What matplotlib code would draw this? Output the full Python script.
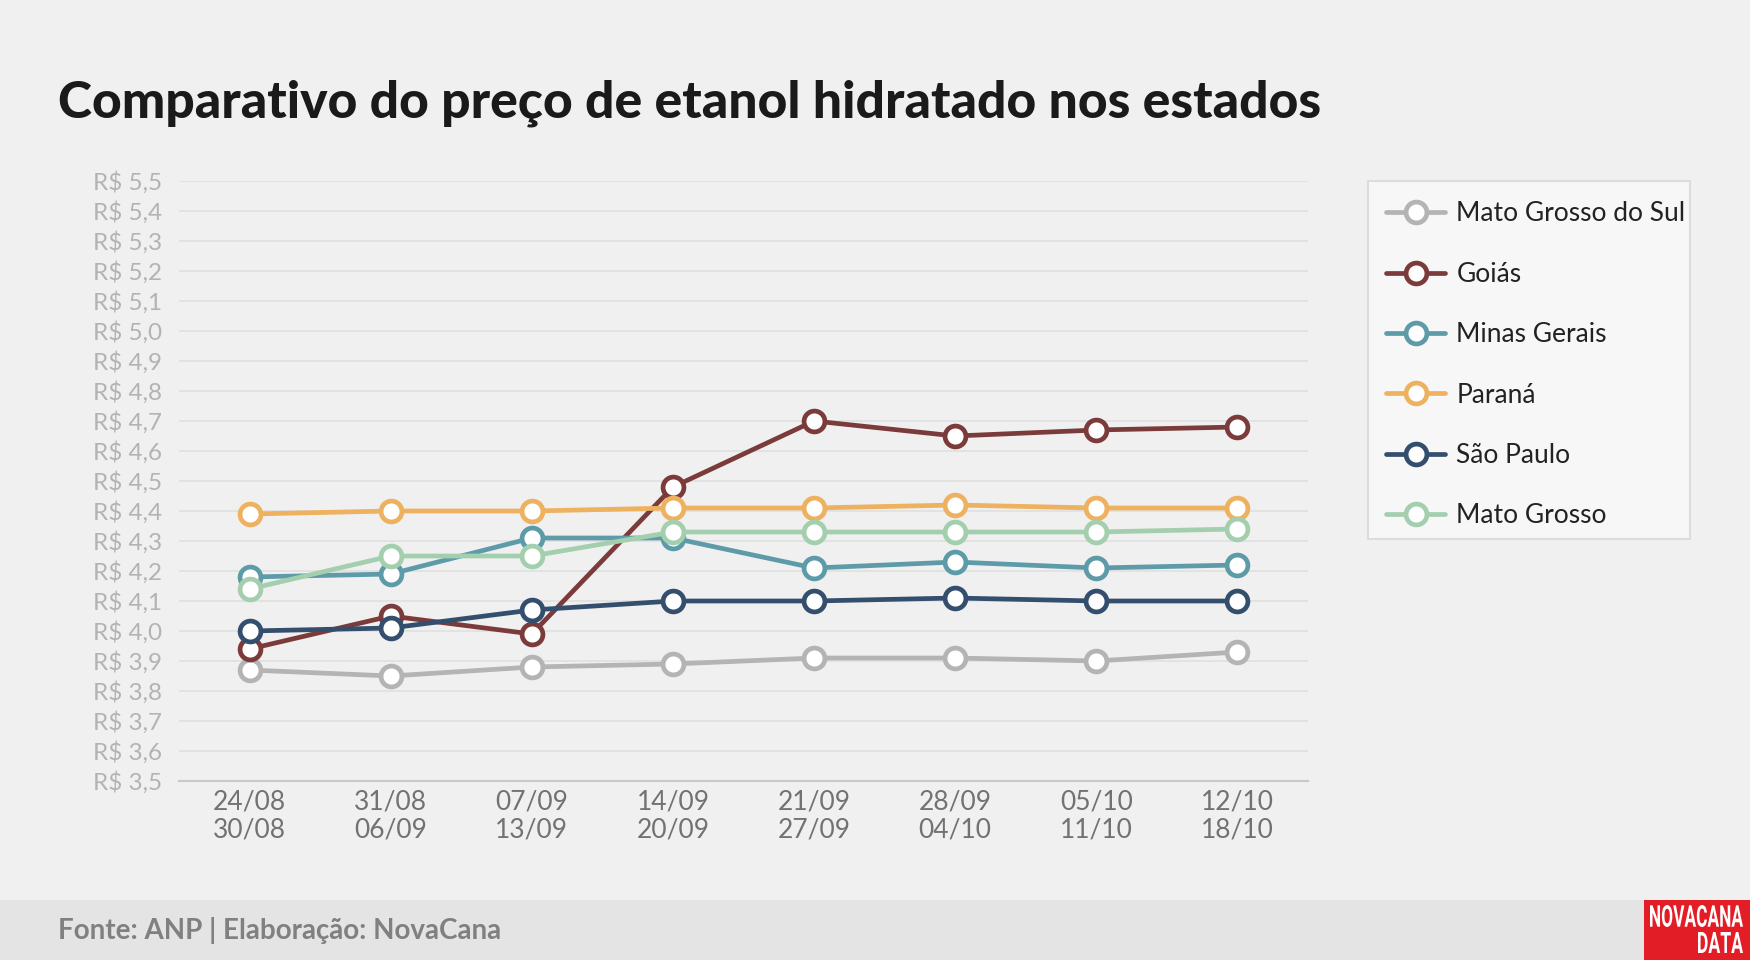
import matplotlib
matplotlib.use("Agg")
import matplotlib.pyplot as plt
from matplotlib.patches import Rectangle, PathPatch
from matplotlib.textpath import TextPath
from matplotlib.font_manager import FontProperties
from matplotlib.transforms import Affine2D

semanas = ["24/08\n30/08", "31/08\n06/09", "07/09\n13/09", "14/09\n20/09",
           "21/09\n27/09", "28/09\n04/10", "05/10\n11/10", "12/10\n18/10"]

mato_grosso_do_sul = [3.87, 3.85, 3.88, 3.89, 3.91, 3.91, 3.90, 3.93]
goias = [3.94, 4.05, 3.99, 4.48, 4.70, 4.65, 4.67, 4.68]
minas_gerais = [4.18, 4.19, 4.31, 4.31, 4.21, 4.23, 4.21, 4.22]
parana = [4.39, 4.40, 4.40, 4.41, 4.41, 4.42, 4.41, 4.41]
sao_paulo = [4.00, 4.01, 4.07, 4.10, 4.10, 4.11, 4.10, 4.10]
mato_grosso = [4.14, 4.25, 4.25, 4.33, 4.33, 4.33, 4.33, 4.34]

series = [
    ("Mato Grosso do Sul", mato_grosso_do_sul, "#b4b4b4"),
    ("Goiás", goias, "#7c3b3b"),
    ("Minas Gerais", minas_gerais, "#5e9ba8"),
    ("Paraná", parana, "#edb160"),
    ("São Paulo", sao_paulo, "#344e6d"),
    ("Mato Grosso", mato_grosso, "#a4cfae"),
]

yticks = [3.5 + i * 0.1 for i in range(21)]

plt.rcParams["font.family"] = ["Lato", "DejaVu Sans"]

W, H = 1750, 960
bg = "#f0f0f0"
fig = plt.figure(figsize=(W / 100, H / 100), dpi=100, facecolor=bg)
ax = fig.add_axes([179 / W, 1 - 781 / H, (1308 - 179) / W, (781 - 181) / H])
ax.set_facecolor(bg)

x = list(range(len(semanas)))
for nome, vals, cor in series:
    ax.plot(x, vals, color=cor, lw=3.4, marker="o", ms=15,
            mfc="white", mec=cor, mew=3.4, label=nome, solid_capstyle="round")

ax.set_xlim(-0.5, len(semanas) - 0.5)
ax.set_ylim(3.5, 5.5)
ax.set_yticks(yticks)
ax.set_yticklabels([("R$ %.1f" % v).replace(".", ",") for v in yticks],
                   color="#b3b3b3", fontsize=17.5)
ax.set_xticks(x)
ax.set_xticklabels(semanas, color="#727272", fontsize=19, linespacing=1.15)
ax.tick_params(axis="both", length=0)
ax.tick_params(axis="y", pad=12)
ax.tick_params(axis="x", pad=6)
ax.grid(axis="y", color="#e0e0e0", lw=1.2)
ax.set_axisbelow(True)
for s in ["top", "right", "left"]:
    ax.spines[s].set_visible(False)
ax.spines["bottom"].set_color("#c8c8c8")
ax.spines["bottom"].set_linewidth(1.5)

# caixa da legenda (atrás)
fig.patches.append(Rectangle((1368 / W, 1 - 539 / H), 322 / W, 358 / H,
                             transform=fig.transFigure, facecolor="#f7f7f7",
                             edgecolor="#dcdcdc", lw=1.5, zorder=-1))
leg = ax.legend(loc="upper left", bbox_to_anchor=(1368 / W, 1 - 183 / H),
                bbox_transform=fig.transFigure, fontsize=19, frameon=False,
                borderpad=0.7, labelspacing=1.34, handlelength=2.2,
                handletextpad=0.45, borderaxespad=0)
for t in leg.get_texts():
    t.set_color("#222222")

fig.text(58 / W, 1 - 103 / H, "Comparativo do preço de etanol hidratado nos estados",
         fontsize=37.2, fontweight="black", color="#1a1a1a", va="center", ha="left")

# rodapé
fig.patches.append(Rectangle((0, 0), 1, 60 / H, transform=fig.transFigure,
                             facecolor="#e4e4e4", edgecolor="none", zorder=0))
fig.text(58 / W, 30 / H, "Fonte: ANP | Elaboração: NovaCana", fontsize=20,
         fontweight="bold", color="#808080", va="center", ha="left")

# logo
fig.patches.append(Rectangle((1644 / W, 0), 106 / W, 60 / H,
                             transform=fig.transFigure, facecolor="#e31d25",
                             edgecolor="none", zorder=1))


def texto_logo(s, x0, x1, y0, y1):
    # texto condensado: escala o contorno para caber na caixa (pixels, origem embaixo)
    tp = TextPath((0, 0), s, size=20, prop=FontProperties(family="Roboto", weight="bold"))
    e = tp.get_extents()
    tr = (Affine2D().translate(-e.x0, -e.y0)
          .scale((x1 - x0) / e.width, (y1 - y0) / e.height)
          .translate(x0, y0).scale(1 / W, 1 / H))
    fig.patches.append(PathPatch(tr.transform_path(tp), transform=fig.transFigure,
                                 facecolor="white", edgecolor="none", zorder=2))


texto_logo("NOVACANA", 1650, 1743, 33, 55)
texto_logo("DATA", 1698, 1743, 7, 28)

fig.savefig("out.png", dpi=100, facecolor=bg)
